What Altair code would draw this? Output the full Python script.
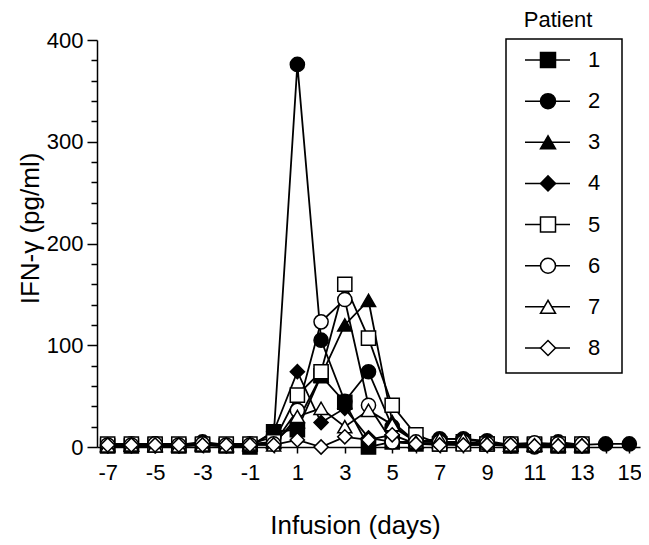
import altair as alt
import pandas as pd

# ---- data ----
patients = ["1", "2", "3", "4", "5", "6", "7", "8"]
days_std = list(range(-7, 14))      # -7 .. 13
days_p2 = list(range(-7, 16))       # -7 .. 15 (patient 2)

p1 = [1, 1, 2, 1, 2, 1, 0, 15, 17, 70, 44, 0, 5, 3, 3, 5, 3, 1, 2, 1, 1]
p2 = [2, 3, 3, 2, 5, 2, 3, 10, 376, 105, 45, 74, 20, 5, 8, 8, 6, 2, 0, 5, 2, 3, 3]
p3 = [2, 2, 2, 2, 3, 2, 2, 5, 25, 70, 120, 144, 25, 5, 5, 3, 3, 2, 2, 1, 1]
p4 = [1, 1, 1, 1, 2, 1, 1, 15, 74, 24, 38, 9, 5, 3, 3, 2, 2, 1, 1, 1, 1]
p5 = [3, 3, 3, 3, 3, 3, 3, 5, 51, 74, 160, 107, 41, 12, 3, 3, 3, 3, 3, 3, 3]
p6 = [2, 2, 3, 2, 3, 2, 2, 3, 36, 123, 145, 41, 5, 5, 5, 5, 3, 3, 4, 3, 3]
p7 = [1, 2, 1, 1, 2, 1, 3, 2, 30, 38, 20, 36, 22, 5, 8, 8, 4, 2, 2, 2, 2]
p8 = [2, 2, 2, 2, 2, 2, 2, 2, 7, 0, 10, 7, 12, 3, 2, 2, 2, 2, 1, 1, 1]

series = {"1": (days_std, p1), "2": (days_p2, p2), "3": (days_std, p3),
          "4": (days_std, p4), "5": (days_std, p5), "6": (days_std, p6),
          "7": (days_std, p7), "8": (days_std, p8)}

x_ticks = list(range(-7, 16))
y_ticks = list(range(0, 401, 20))
legend_title = ["Patient"]

rows = []
for pid in patients:
    d, v = series[pid]
    for di, vi in zip(d, v):
        rows.append({"patient": pid, "day": di, "value": vi})
df = pd.DataFrame(rows)
leg_df = pd.DataFrame({"patient": patients, "row": list(range(len(patients)))})
title_df = pd.DataFrame({"t": legend_title})

shapes = ["square", "circle", "triangle-up", "diamond"] * 2
fills = ["black"] * 4 + ["white"] * 4
legend_sizes = [225, 225, 225, 196, 169, 130, 169, 144]

FONT = "Liberation Sans"

shape_enc = alt.Shape("patient:N", scale=alt.Scale(domain=patients, range=shapes), legend=None)
fill_enc = alt.Fill("patient:N", scale=alt.Scale(domain=patients, range=fills), legend=None)

x_enc = alt.X("day:Q",
              scale=alt.Scale(domain=[-7.45, 15.45], nice=False, zero=False),
              axis=alt.Axis(values=x_ticks,
                            labelExpr="datum.value % 2 != 0 ? '' + datum.value : ''",
                            tickSize=6, labelPadding=9, grid=False,
                            titleX=258, titleY=78, titleBaseline="middle"),
              title="Infusion (days)")
y_scale = alt.Scale(domain=[0, 400], nice=False)
y_enc = alt.Y("value:Q", scale=y_scale,
              axis=alt.Axis(values=y_ticks,
                            labelExpr="datum.value % 100 == 0 ? datum.label : ''",
                            tickSize={"condition": {"test": "datum.value % 100 == 0", "value": 10}, "value": 6},
                            labelPadding=4, grid=False,
                            titleX=-67, titleY=188, titleBaseline="middle"),
              title="IFN-γ (pg/ml)")
y_enc_noaxis = alt.Y("value:Q", scale=y_scale, axis=None)

base = alt.Chart(df)

lines = base.mark_line(color="black", strokeWidth=1.8).encode(
    x=x_enc, y=y_enc, detail="patient:N", order="day:Q")

points = base.mark_point(filled=True, stroke="black", strokeWidth=1.5,
                         size=200, opacity=1).encode(
    x=x_enc, y=y_enc_noaxis, shape=shape_enc, fill=fill_enc,
    order=alt.Order("patient:N"))

# ---- legend, drawn as its own small layers ----
row_y = alt.Y("row:Q", scale=alt.Scale(domain=[0, 7], range=[20, 308]), axis=None)
lbase = alt.Chart(leg_df)

leg_box = alt.Chart(title_df).mark_rect(fill="white", stroke="black", strokeWidth=1.5).encode(
    x=alt.value(409), x2=alt.value(525), y=alt.value(-1), y2=alt.value(333))
leg_rules = lbase.mark_rule(color="black", strokeWidth=1.5).encode(
    x=alt.value(428), x2=alt.value(473), y=row_y)
leg_points = lbase.mark_point(filled=True, stroke="black", strokeWidth=1.5, opacity=1).encode(
    x=alt.value(451), y=row_y, shape=shape_enc, fill=fill_enc,
    size=alt.Size("patient:N", scale=alt.Scale(domain=patients, range=legend_sizes), legend=None))
leg_text = lbase.mark_text(align="left", baseline="middle", fontSize=22, font=FONT,
                           color="black").encode(
    x=alt.value(491), y=row_y, text="patient:N")
leg_title = alt.Chart(title_df).mark_text(align="center", baseline="middle", fontSize=22,
                                          font=FONT, color="black").encode(
    x=alt.value(461), y=alt.value(-20), text="t:N")

chart = alt.layer(lines, points, leg_box, leg_rules, leg_points, leg_text, leg_title).resolve_scale(
    y="independent"
).properties(
    width=543, height=407,
    autosize=alt.AutoSizeParams(type="none"),
    padding={"left": 89, "top": 32, "right": 1, "bottom": 97},
).configure_view(stroke=None).configure_axis(
    labelFont=FONT, titleFont=FONT, labelFontSize=22, titleFontSize=26,
    titleFontWeight="normal", labelColor="black", titleColor="black",
    domainColor="black", tickColor="black", domainWidth=1.5, tickWidth=1.5,
)

chart.save("out.html", embed_options={"renderer": "svg", "actions": False})
